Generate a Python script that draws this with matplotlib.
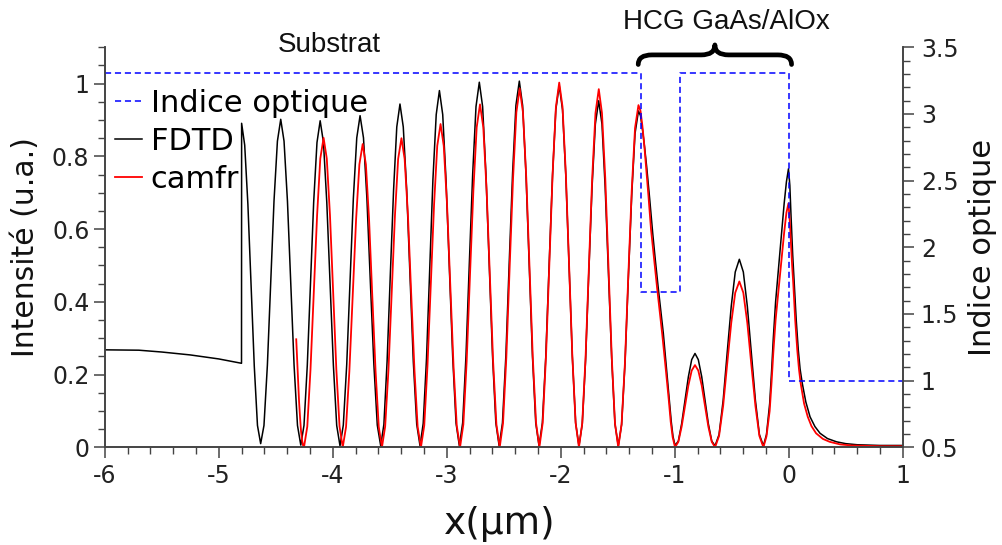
import matplotlib
matplotlib.use('Agg')
import matplotlib.pyplot as plt
import matplotlib.transforms as mtransforms
from matplotlib.path import Path
from matplotlib.patches import PathPatch
from matplotlib.ticker import MultipleLocator, FormatStrFormatter

# FDTD intensity (black)
fdtd_x = [
    -6.0, -5.7, -5.5, -5.25, -5.0, -4.80,
    -4.799, -4.772, -4.744, -4.716, -4.688, -4.660, -4.632,
    -4.603, -4.573, -4.544, -4.515, -4.485, -4.456,
    -4.427, -4.397, -4.368, -4.339, -4.309, -4.280,
    -4.252, -4.223, -4.195, -4.167, -4.138, -4.110,
    -4.081, -4.052, -4.023, -3.994, -3.965, -3.936,
    -3.907, -3.877, -3.848, -3.819, -3.789, -3.760,
    -3.730, -3.700, -3.670, -3.639, -3.609, -3.579,
    -3.551, -3.523, -3.495, -3.466, -3.438, -3.410,
    -3.381, -3.351, -3.322, -3.293, -3.263, -3.234,
    -3.206, -3.177, -3.149, -3.121, -3.092, -3.064,
    -3.035, -3.006, -2.977, -2.947, -2.918, -2.889,
    -2.860, -2.831, -2.802, -2.772, -2.743, -2.714,
    -2.685, -2.656, -2.627, -2.598, -2.569, -2.540,
    -2.511, -2.481, -2.452, -2.422, -2.393, -2.363,
    -2.334, -2.305, -2.277, -2.248, -2.219, -2.190,
    -2.161, -2.131, -2.102, -2.072, -2.043, -2.013,
    -1.984, -1.955, -1.927, -1.898, -1.869, -1.840,
    -1.811, -1.782, -1.754, -1.725, -1.696, -1.667,
    -1.638, -1.610, -1.581, -1.552, -1.524, -1.495,
    -1.466, -1.436, -1.407, -1.377, -1.348, -1.318,
    -1.300, -1.282, -1.264, -1.246, -1.220, -1.193, -1.170, -1.145,
    -1.122, -1.100, -1.073, -1.047, -1.030, -1.015, -0.997,
    -0.968, -0.939, -0.910, -0.880, -0.851, -0.822,
    -0.793, -0.763, -0.734, -0.705, -0.675, -0.646,
    -0.611, -0.575, -0.540, -0.504, -0.469, -0.433,
    -0.398, -0.363, -0.328, -0.292, -0.257, -0.222,
    -0.195, -0.167, -0.150, -0.135, -0.115, -0.090, -0.062, -0.040,
    -0.020, -0.002,
    0.010, 0.020, 0.035, 0.049, 0.066, 0.084, 0.100, 0.119, 0.150,
    0.187, 0.230, 0.275, 0.340, 0.420, 0.500, 0.600, 0.800, 1.000]
fdtd_y = [
    0.268, 0.267, 0.262, 0.254, 0.243, 0.231,
    0.891, 0.831, 0.668, 0.446, 0.223, 0.060, 0.010,
    0.060, 0.226, 0.451, 0.677, 0.842, 0.902,
    0.842, 0.677, 0.451, 0.226, 0.060, 0.006,
    0.060, 0.225, 0.449, 0.674, 0.838, 0.898,
    0.838, 0.674, 0.449, 0.225, 0.060, 0.004,
    0.061, 0.228, 0.456, 0.684, 0.851, 0.912,
    0.851, 0.684, 0.456, 0.228, 0.061, 0.004,
    0.063, 0.236, 0.472, 0.708, 0.881, 0.944,
    0.881, 0.708, 0.472, 0.236, 0.063, 0.004,
    0.066, 0.245, 0.491, 0.736, 0.915, 0.981,
    0.915, 0.736, 0.491, 0.245, 0.066, 0.004,
    0.067, 0.251, 0.502, 0.753, 0.937, 1.004,
    0.937, 0.753, 0.502, 0.251, 0.067, 0.004,
    0.067, 0.252, 0.504, 0.755, 0.940, 1.007,
    0.940, 0.755, 0.504, 0.252, 0.067, 0.004,
    0.067, 0.249, 0.498, 0.746, 0.928, 0.995,
    0.928, 0.746, 0.498, 0.249, 0.067, 0.004,
    0.064, 0.238, 0.477, 0.715, 0.889, 0.953,
    0.889, 0.715, 0.477, 0.238, 0.064, 0.004,
    0.062, 0.231, 0.463, 0.694, 0.863, 0.925,
    0.912, 0.872, 0.825, 0.772, 0.685, 0.589, 0.515, 0.440,
    0.375, 0.314, 0.220, 0.130, 0.070, 0.030, 0.005,
    0.017, 0.065, 0.129, 0.194, 0.241, 0.258,
    0.241, 0.194, 0.129, 0.065, 0.017, 0.004,
    0.035, 0.129, 0.259, 0.388, 0.482, 0.517,
    0.482, 0.388, 0.259, 0.129, 0.035, 0.004,
    0.035, 0.120, 0.210, 0.300, 0.400, 0.490, 0.589, 0.670,
    0.730, 0.766,
    0.720, 0.640, 0.530, 0.451, 0.350, 0.268, 0.215, 0.176, 0.125,
    0.084, 0.057, 0.0385, 0.024, 0.015, 0.010, 0.007, 0.005, 0.005]

# camfr intensity (red)
camfr_x = [
    -4.320, -4.311, -4.303, -4.295, -4.286, -4.278, -4.269, -4.261, -4.252,
    -4.223, -4.195, -4.166, -4.137, -4.109, -4.080,
    -4.052, -4.024, -3.996, -3.968, -3.940, -3.912,
    -3.883, -3.854, -3.825, -3.795, -3.766, -3.737,
    -3.709, -3.681, -3.653, -3.624, -3.596, -3.568,
    -3.540, -3.511, -3.483, -3.454, -3.426, -3.397,
    -3.369, -3.340, -3.312, -3.283, -3.255, -3.226,
    -3.197, -3.169, -3.140, -3.111, -3.083, -3.054,
    -3.026, -2.997, -2.969, -2.940, -2.912, -2.883,
    -2.854, -2.825, -2.796, -2.766, -2.737, -2.708,
    -2.679, -2.650, -2.622, -2.593, -2.564, -2.535,
    -2.506, -2.477, -2.448, -2.418, -2.389, -2.360,
    -2.331, -2.302, -2.274, -2.245, -2.216, -2.187,
    -2.158, -2.129, -2.100, -2.071, -2.042, -2.013,
    -1.984, -1.955, -1.927, -1.898, -1.869, -1.840,
    -1.811, -1.782, -1.753, -1.724, -1.695, -1.666,
    -1.638, -1.609, -1.581, -1.552, -1.524, -1.495,
    -1.466, -1.436, -1.407, -1.377, -1.348, -1.318,
    -1.300, -1.284, -1.268, -1.252, -1.230, -1.208, -1.180, -1.155,
    -1.132, -1.109, -1.080, -1.052, -1.035, -1.018, -0.997,
    -0.968, -0.939, -0.910, -0.880, -0.851, -0.822,
    -0.793, -0.763, -0.734, -0.705, -0.675, -0.646,
    -0.611, -0.575, -0.540, -0.504, -0.469, -0.433,
    -0.398, -0.363, -0.328, -0.292, -0.257, -0.222,
    -0.195, -0.167, -0.150, -0.135, -0.115, -0.090, -0.062, -0.040,
    -0.020, -0.002,
    0.010, 0.020, 0.030, 0.040, 0.057, 0.075, 0.090, 0.105, 0.135,
    0.167, 0.200, 0.240, 0.300, 0.360, 0.450, 0.550, 0.800, 1.000]
camfr_y = [
    0.297, 0.235, 0.175, 0.125, 0.080, 0.045, 0.020, 0.006, 0.000,
    0.057, 0.213, 0.426, 0.638, 0.794, 0.851,
    0.794, 0.638, 0.426, 0.213, 0.057, 0.000,
    0.056, 0.209, 0.417, 0.626, 0.778, 0.834,
    0.778, 0.626, 0.417, 0.209, 0.056, 0.000,
    0.057, 0.213, 0.425, 0.638, 0.793, 0.850,
    0.793, 0.638, 0.425, 0.213, 0.057, 0.000,
    0.060, 0.222, 0.445, 0.667, 0.829, 0.889,
    0.829, 0.667, 0.445, 0.222, 0.060, 0.000,
    0.063, 0.236, 0.472, 0.707, 0.880, 0.943,
    0.880, 0.707, 0.472, 0.236, 0.063, 0.000,
    0.066, 0.247, 0.494, 0.740, 0.921, 0.987,
    0.921, 0.740, 0.494, 0.247, 0.066, 0.000,
    0.067, 0.251, 0.502, 0.752, 0.936, 1.003,
    0.936, 0.752, 0.502, 0.251, 0.067, 0.000,
    0.066, 0.246, 0.493, 0.739, 0.919, 0.985,
    0.919, 0.739, 0.493, 0.246, 0.066, 0.000,
    0.063, 0.235, 0.471, 0.706, 0.878, 0.941,
    0.925, 0.885, 0.835, 0.775, 0.690, 0.600, 0.515, 0.440,
    0.375, 0.310, 0.220, 0.130, 0.070, 0.028, 0.000,
    0.015, 0.057, 0.113, 0.170, 0.211, 0.226,
    0.211, 0.170, 0.113, 0.057, 0.015, 0.000,
    0.031, 0.114, 0.228, 0.342, 0.425, 0.456,
    0.425, 0.342, 0.228, 0.114, 0.031, 0.000,
    0.030, 0.100, 0.180, 0.260, 0.350, 0.430, 0.520, 0.590,
    0.645, 0.671,
    0.620, 0.560, 0.500, 0.451, 0.350, 0.268, 0.215, 0.176, 0.120,
    0.084, 0.058, 0.0385, 0.023, 0.015, 0.008, 0.005, 0.003, 0.003]

# refractive index profile (steps)
index_x = [-6.0, -1.30, -0.955, 0.0, 1.0]
index_n = [3.31, 1.667, 3.31, 1.0, 1.0]

plt.rcParams['font.family'] = 'DejaVu Sans'
plt.rcParams['axes.unicode_minus'] = False

fig = plt.figure(figsize=(10.03, 5.45), dpi=100)
ax = fig.add_axes([0.1044, 0.1793, 0.7956, 0.7339])
ax2 = ax.twinx()

l_fdtd, = ax.plot(fdtd_x, fdtd_y, color='black', lw=1.1, label='FDTD')
l_camfr, = ax.plot(camfr_x, camfr_y, color='red', lw=1.3, label='camfr')
l_n, = ax2.plot(index_x, index_n, color='blue', lw=1.1, ls=(0, (4, 2.5)),
                drawstyle='steps-post', label='Indice optique')

ax.set_xlim(-6, 1)
ax.set_ylim(0, 1.1)
ax2.set_ylim(0.5, 3.5)

ax.xaxis.set_major_locator(MultipleLocator(1))
ax.xaxis.set_minor_locator(MultipleLocator(0.2))
ax.yaxis.set_major_locator(MultipleLocator(0.2))
ax.yaxis.set_minor_locator(MultipleLocator(0.05))
ax2.yaxis.set_major_locator(MultipleLocator(0.5))
ax2.yaxis.set_minor_locator(MultipleLocator(0.1))
ax.xaxis.set_major_formatter(FormatStrFormatter('%g'))
ax.yaxis.set_major_formatter(FormatStrFormatter('%g'))
ax2.yaxis.set_major_formatter(FormatStrFormatter('%g'))

spine_c = '#444444'
for a in (ax, ax2):
    a.spines['top'].set_visible(False)
    for s in ('left', 'right', 'bottom'):
        a.spines[s].set_color(spine_c)
        a.spines[s].set_linewidth(1.2)
    a.tick_params(which='major', direction='out', length=8, width=1.1,
                  colors=spine_c, labelcolor='#222222', labelsize=17)
    a.tick_params(which='minor', direction='out', length=5, width=1.0,
                  colors=spine_c)
ax.tick_params(axis='y', which='major', pad=3)
ax.tick_params(axis='x', which='major', pad=4)
ax2.tick_params(axis='y', which='major', pad=5)

ax.set_xlabel('x(µm)', fontsize=27, color='#111111')
ax.xaxis.set_label_coords(0.495, -0.148)
ax.set_ylabel('Intensité (u.a.)', fontsize=21.5, color='#111111')
ax.yaxis.set_label_coords(-0.081, 0.5)
ax2.set_ylabel('Indice optique', fontsize=22, color='#111111')
ax2.yaxis.set_label_coords(1.082, 0.5)

ax2.legend([l_n, l_fdtd, l_camfr], ['Indice optique', 'FDTD', 'camfr'],
           loc='upper left', bbox_to_anchor=(0.013, 0.896), frameon=False,
           fontsize=22, handlelength=0.87, handletextpad=0.3,
           labelspacing=0.29, borderpad=0, borderaxespad=0)

trans = mtransforms.blended_transform_factory(ax.transData, ax.transAxes)
ax.text(-4.03, 1.005, 'Substrat', transform=trans, ha='center', va='center',
        fontsize=20, family='Liberation Sans', color='#111111')
ax.text(-0.55, 1.063, 'HCG GaAs/AlOx', transform=trans, ha='center',
        va='center', fontsize=20, family='Liberation Sans', color='#111111')

# curly brace over the grating
xl, xr = -1.32, 0.025
xm = (xl + xr) / 2
q = 0.12
y_end, y_bar, y_tip = 0.957, 0.981, 1.006
verts = [(xl, y_end), (xl, y_bar), (xl + q, y_bar),
         (xm - q, y_bar), (xm, y_bar), (xm, y_tip),
         (xm, y_bar), (xm + q, y_bar),
         (xr - q, y_bar), (xr, y_bar), (xr, y_end)]
codes = [Path.MOVETO, Path.CURVE3, Path.CURVE3,
         Path.LINETO, Path.CURVE3, Path.CURVE3,
         Path.CURVE3, Path.CURVE3,
         Path.LINETO, Path.CURVE3, Path.CURVE3]
brace = PathPatch(Path(verts, codes), transform=trans, fc='none', ec='black',
                  lw=3.4, capstyle='round', joinstyle='round', clip_on=False)
ax2.add_patch(brace)

fig.savefig('out.png', dpi=100)
